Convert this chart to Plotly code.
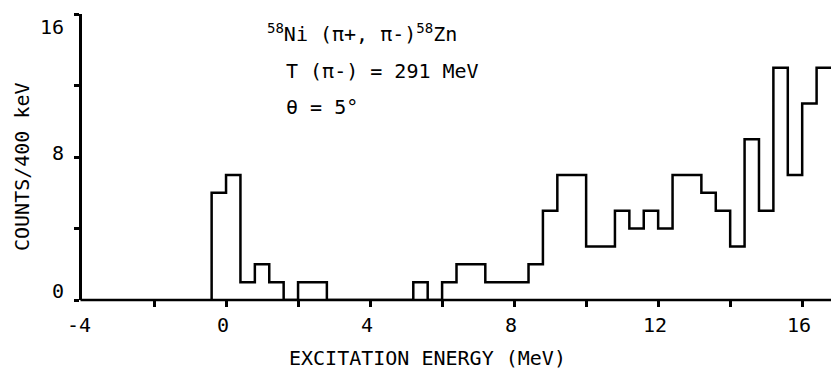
import plotly.graph_objects as go

# ---- data ----
bin_edges_start = [-0.4, 0.0, 0.4, 0.8, 1.2, 1.6, 2.0, 2.4, 2.8, 3.2, 3.6, 4.0, 4.4, 4.8,
                   5.2, 5.6, 6.0, 6.4, 6.8, 7.2, 7.6, 8.0, 8.4, 8.8, 9.2, 9.6, 10.0, 10.4,
                   10.8, 11.2, 11.6, 12.0, 12.4, 12.8, 13.2, 13.6, 14.0, 14.4, 14.8, 15.2,
                   15.6, 16.0, 16.4]
counts = [6, 7, 1, 2, 1, 0, 1, 1, 0, 0, 0, 0, 0, 0,
          1, 0, 1, 2, 2, 1, 1, 1, 2, 5, 7, 7, 3, 3,
          5, 4, 5, 4, 7, 7, 6, 5, 3, 9, 5, 13,
          7, 11, 13]
bin_width = 0.4

x_tick_vals = [-2, 0, 2, 4, 6, 8, 10, 12, 14, 16]
x_label_vals = [-4, 0, 4, 8, 12, 16]
x_label_text = ["-4", "0", "4", "8", "12", "16"]
y_tick_vals = [0, 4, 8, 12, 16]
y_label_vals = [0, 8, 16]
y_label_text = ["0", "8", "16"]

title_lines = ["<sup>58</sup>Ni (\u03c0+, \u03c0-)<sup>58</sup>Zn",
               "T (\u03c0-) = 291 MeV",
               "\u03b8 = 5\u00b0"]
x_title = "EXCITATION ENERGY (MeV)"
y_title = "COUNTS/400 keV"

# ---- build step outline ----
xs = [bin_edges_start[0]] + bin_edges_start + [bin_edges_start[-1] + bin_width]
ys = [0] + counts + [counts[-1]]

W, H = 831, 369
L, R, T, B = 82, 0, 14, 69
PW, PH = W - L - R, H - T - B
FONT = "DejaVu Sans Mono"

def px(xp):
    return (xp - L) / PW

def py(yp):
    return (H - B - yp) / PH

fig = go.Figure()
fig.add_trace(go.Scatter(x=xs, y=ys, mode="lines", line=dict(shape="hv", color="black", width=2.5),
                         hoverinfo="skip", showlegend=False))

annotations = []
# x tick labels (placed just under axis)
for v, t in zip(x_label_vals, x_label_text):
    annotations.append(dict(x=v, xref="x", y=py(325), yref="paper", text=t, showarrow=False,
                            xanchor="center", yanchor="middle", xshift=-3,
                            font=dict(family=FONT, size=20, color="black")))
# y tick labels
y_label_pix = {0: 291, 8: 153, 16: 27}
for v, t in zip(y_label_vals, y_label_text):
    annotations.append(dict(x=px(66), xref="paper", y=py(y_label_pix[v]), yref="paper", text=t,
                            showarrow=False, xanchor="right", yanchor="middle",
                            font=dict(family=FONT, size=20, color="black")))
# axis titles
annotations.append(dict(x=px(427), xref="paper", y=py(358), yref="paper", text=x_title, showarrow=False,
                        xanchor="center", yanchor="middle", font=dict(family=FONT, size=20, color="black")))
annotations.append(dict(x=px(22), xref="paper", y=py(167), yref="paper", text=y_title, showarrow=False,
                        textangle=-90, xanchor="center", yanchor="middle",
                        font=dict(family=FONT, size=20, color="black")))
# reaction text
line_pos = [(265, 33), (284, 71), (284, 107)]
for (xp, yp), t in zip(line_pos, title_lines):
    annotations.append(dict(x=px(xp), xref="paper", y=py(yp), yref="paper", text=t, showarrow=False,
                            xanchor="left", yanchor="middle", font=dict(family=FONT, size=20, color="black")))

fig.update_layout(
    width=W, height=H,
    margin=dict(l=L, r=R, t=T, b=B, pad=0),
    paper_bgcolor="white", plot_bgcolor="white",
    xaxis=dict(range=[-4, 16.8], showgrid=False, zeroline=False, showline=False,
               ticks="outside", tickvals=x_tick_vals, ticklen=6, tickwidth=2.5,
               tickcolor="black", showticklabels=False),
    yaxis=dict(range=[0, 16], showgrid=False, zeroline=False, showline=True, linecolor="black",
               linewidth=2.5, ticks="outside", tickvals=y_tick_vals, ticklen=5, tickwidth=2.5,
               tickcolor="black", showticklabels=False),
    annotations=annotations,
    shapes=[dict(type="line", xref="paper", yref="paper", x0=-0.002, x1=1, y0=0, y1=0,
                 line=dict(color="black", width=2.5), layer="above")],
)

fig.write_html("out.html")
